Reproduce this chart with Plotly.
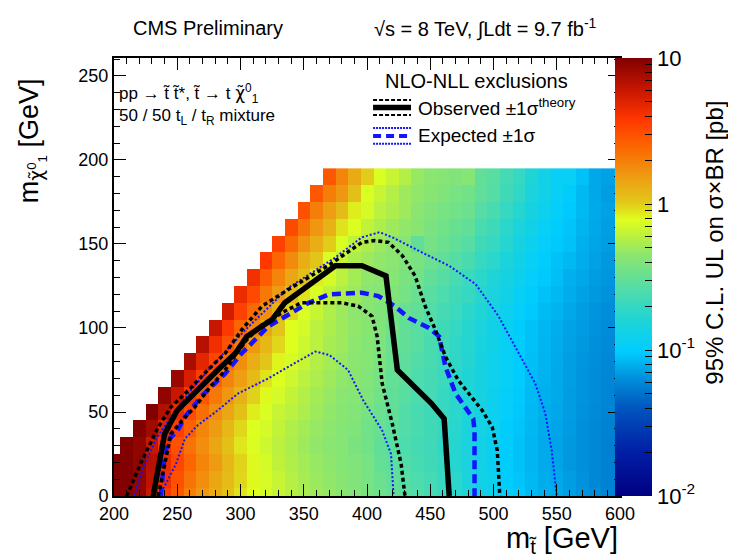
import numpy as np
import plotly.graph_objects as go

## Grid of stop / LSP masses (cell centres, GeV)
mstop = list(range(200, 601, 10))
mlsp = list(range(0, 191, 10))

## 95% CL upper limit on sigma x BR [pb], one list per LSP mass row.
## Each row starts at the first filled cell (the diagonal) and runs to mstop = 600.
ul_000 = [10, 9.5, 9, 6, 3.8, 2.8, 2.0, 1.6, 1.35, 1.1, 0.9, 0.78, 0.72, 0.65, 0.59, 0.54, 0.5, 0.47, 0.44, 0.41, 0.38,
          0.34, 0.31, 0.28, 0.26, 0.23, 0.2, 0.18, 0.16, 0.13, 0.12, 0.105, 0.095, 0.085, 0.08, 0.076, 0.071, 0.066, 0.062, 0.058, 0.056]
ul_010 = [10, 10, 9, 6.5, 4.2, 3.0, 2.2, 1.75, 1.4, 1.15, 0.95, 0.8, 0.73, 0.65, 0.58, 0.53, 0.49, 0.46, 0.43, 0.4, 0.37,
          0.33, 0.3, 0.27, 0.25, 0.23, 0.2, 0.18, 0.15, 0.13, 0.12, 0.1, 0.092, 0.085, 0.078, 0.075, 0.07, 0.065, 0.06, 0.057, 0.055]
ul_020 = [10, 10, 9, 6.8, 4.5, 3.3, 2.5, 1.9, 1.55, 1.2, 0.97, 0.8, 0.72, 0.62, 0.56, 0.52, 0.48, 0.45, 0.42, 0.4, 0.37,
          0.31, 0.29, 0.26, 0.24, 0.22, 0.2, 0.17, 0.15, 0.13, 0.115, 0.1, 0.09, 0.083, 0.077, 0.074, 0.068, 0.064, 0.06, 0.057, 0.054]
ul_030 = [10, 9, 6, 4.1, 3.0, 2.2, 1.75, 1.4, 1.1, 0.88, 0.75, 0.68, 0.6, 0.55, 0.5, 0.46, 0.44, 0.42, 0.38, 0.35,
          0.3, 0.28, 0.25, 0.23, 0.22, 0.19, 0.17, 0.15, 0.13, 0.115, 0.1, 0.09, 0.083, 0.077, 0.073, 0.068, 0.064, 0.06, 0.056, 0.054]
ul_040 = [10, 8, 5, 3.6, 2.6, 1.9, 1.55, 1.2, 0.95, 0.77, 0.72, 0.63, 0.56, 0.52, 0.48, 0.45, 0.42, 0.4, 0.35,
          0.32, 0.29, 0.26, 0.24, 0.22, 0.2, 0.175, 0.15, 0.135, 0.12, 0.1, 0.092, 0.084, 0.078, 0.074, 0.069, 0.064, 0.06, 0.057, 0.055]
ul_050 = [10, 7, 4.5, 3.2, 2.3, 1.75, 1.4, 1.1, 0.85, 0.75, 0.65, 0.6, 0.55, 0.5, 0.46, 0.43, 0.41, 0.37,
          0.33, 0.3, 0.26, 0.24, 0.22, 0.2, 0.18, 0.155, 0.135, 0.12, 0.105, 0.094, 0.085, 0.079, 0.075, 0.07, 0.065, 0.061, 0.058, 0.056]
ul_060 = [9, 6, 3.9, 2.9, 2.1, 1.6, 1.25, 0.98, 0.8, 0.72, 0.63, 0.57, 0.52, 0.48, 0.44, 0.42, 0.4,
          0.35, 0.3, 0.28, 0.25, 0.23, 0.2, 0.18, 0.16, 0.14, 0.12, 0.105, 0.095, 0.086, 0.08, 0.076, 0.07, 0.066, 0.062, 0.058, 0.056]
ul_070 = [8.5, 5.3, 3.6, 2.6, 1.9, 1.5, 1.15, 0.9, 0.77, 0.68, 0.6, 0.55, 0.5, 0.46, 0.43, 0.41,
          0.37, 0.31, 0.29, 0.25, 0.23, 0.21, 0.18, 0.16, 0.14, 0.125, 0.11, 0.097, 0.087, 0.081, 0.076, 0.071, 0.066, 0.062, 0.059, 0.057]
ul_080 = [7.5, 4.8, 3.3, 2.3, 1.75, 1.3, 1.05, 0.82, 0.73, 0.65, 0.57, 0.52, 0.48, 0.44, 0.42,
          0.38, 0.33, 0.29, 0.26, 0.24, 0.21, 0.19, 0.165, 0.14, 0.125, 0.11, 0.098, 0.088, 0.082, 0.077, 0.071, 0.067, 0.063, 0.06, 0.058]
ul_090 = [6.8, 4.3, 3.0, 2.1, 1.6, 1.2, 0.95, 0.78, 0.68, 0.6, 0.53, 0.5, 0.45, 0.42,
          0.39, 0.33, 0.3, 0.28, 0.24, 0.22, 0.19, 0.17, 0.145, 0.13, 0.11, 0.1, 0.09, 0.083, 0.078, 0.072, 0.068, 0.064, 0.061, 0.059]
ul_100 = [6, 3.8, 2.5, 1.9, 1.4, 1.05, 0.78, 0.72, 0.6, 0.55, 0.5, 0.46, 0.43,
          0.4, 0.35, 0.3, 0.28, 0.25, 0.22, 0.2, 0.17, 0.15, 0.13, 0.115, 0.1, 0.09, 0.084, 0.079, 0.073, 0.069, 0.065, 0.062, 0.06]
ul_110 = [5.5, 3.5, 2.4, 1.7, 1.25, 0.95, 0.75, 0.65, 0.56, 0.5, 0.45, 0.43,
          0.4, 0.35, 0.32, 0.3, 0.26, 0.23, 0.21, 0.18, 0.16, 0.14, 0.12, 0.105, 0.095, 0.087, 0.082, 0.075, 0.07, 0.066, 0.063, 0.061]
ul_120 = [4.5, 3.2, 2.1, 1.55, 1.15, 0.9, 0.75, 0.62, 0.55, 0.5, 0.44,
          0.42, 0.4, 0.36, 0.32, 0.28, 0.25, 0.22, 0.2, 0.17, 0.15, 0.13, 0.11, 0.1, 0.09, 0.085, 0.078, 0.072, 0.068, 0.065, 0.063]
ul_130 = [4.2, 2.7, 1.9, 1.4, 1.1, 0.85, 0.72, 0.6, 0.52, 0.46,
          0.44, 0.42, 0.38, 0.35, 0.3, 0.27, 0.24, 0.21, 0.18, 0.16, 0.14, 0.12, 0.105, 0.095, 0.088, 0.08, 0.075, 0.07, 0.067, 0.065]
ul_140 = [3.8, 2.5, 1.8, 1.3, 1.05, 0.75, 0.65, 0.55, 0.5,
          0.46, 0.44, 0.4, 0.38, 0.33, 0.3, 0.27, 0.24, 0.2, 0.18, 0.15, 0.13, 0.11, 0.1, 0.09, 0.085, 0.078, 0.072, 0.068, 0.066]
ul_150 = [3.5, 2.4, 1.7, 1.3, 1.0, 0.75, 0.62, 0.55,
          0.5, 0.44, 0.42, 0.3, 0.36, 0.33, 0.3, 0.27, 0.22, 0.2, 0.17, 0.14, 0.12, 0.105, 0.095, 0.09, 0.08, 0.074, 0.07, 0.067]
ul_160 = [3.2, 2.2, 1.6, 1.25, 0.9, 0.75, 0.62,
          0.55, 0.5, 0.46, 0.43, 0.38, 0.35, 0.32, 0.3, 0.24, 0.22, 0.18, 0.15, 0.13, 0.11, 0.1, 0.092, 0.082, 0.075, 0.071, 0.068]
ul_170 = [3.0, 2.0, 1.5, 1.15, 0.85, 0.72,
          0.6, 0.55, 0.5, 0.44, 0.4, 0.37, 0.35, 0.33, 0.27, 0.24, 0.2, 0.17, 0.14, 0.12, 0.105, 0.095, 0.085, 0.076, 0.072, 0.069]
ul_180 = [2.8, 2.0, 1.6, 1.1, 0.75,
          0.65, 0.57, 0.5, 0.46, 0.43, 0.4, 0.37, 0.35, 0.3, 0.27, 0.22, 0.19, 0.15, 0.13, 0.11, 0.1, 0.085, 0.075, 0.07, 0.068]
ul_190 = [2.8, 1.9, 1.35, 1.0,
          0.75, 0.65, 0.57, 0.48, 0.44, 0.42, 0.4, 0.42, 0.3, 0.28, 0.23, 0.2, 0.16, 0.13, 0.11, 0.11, 0.09, 0.075, 0.072, 0.075]

ul_rows = [ul_000, ul_010, ul_020, ul_030, ul_040, ul_050, ul_060, ul_070, ul_080, ul_090,
           ul_100, ul_110, ul_120, ul_130, ul_140, ul_150, ul_160, ul_170, ul_180, ul_190]

## Exclusion contours (mstop, mlsp) in GeV
obs_x = [231, 240, 250, 264, 282, 296, 305, 325, 335, 375, 396, 415, 424, 451, 461, 465]
obs_y = [0, 37, 51, 62, 75, 85, 95, 105, 115, 137, 137, 131, 75, 55, 46, 0]
obs_up_x = [210, 216, 222, 235, 245, 259, 274, 288, 301, 317, 338, 369, 396, 406, 417, 428, 438, 446, 454, 462, 472, 491, 499, 503, 505]
obs_up_y = [0, 10, 21, 41, 53, 63, 75, 85, 99, 113, 123, 137, 151, 152, 151, 143, 131, 113, 99, 83, 69, 51, 41, 27, 0]
obs_dn_x = [235, 245, 255, 264, 276, 287, 296, 305, 317, 335, 348, 380, 393, 404, 408, 410, 412, 420, 427, 430]
obs_dn_y = [0, 37, 46, 53, 65, 74, 84, 93, 102, 110, 115, 115, 113, 107, 95, 80, 67, 43, 19, 0]
exp_x = [237, 240, 244, 251, 256, 263, 270, 288, 301, 322, 354, 370, 396, 409, 422, 433, 449, 457, 462, 470, 484, 485, 485]
exp_y = [0, 25, 34, 40, 47, 53, 60, 73, 85, 101, 115, 120, 121, 119, 113, 106, 100, 95, 77, 61, 46, 39, 0]
exp_up_x = [216, 223, 234, 247, 262, 277, 304, 338, 375, 396, 410, 420, 446, 465, 486, 504, 517, 533, 541, 546, 550]
exp_up_y = [0, 17, 35, 49, 64, 77, 99, 124, 142, 154, 157, 154, 144, 137, 126, 107, 89, 67, 49, 27, 0]
exp_dn_x = [236, 249, 256, 266, 282, 298, 322, 343, 359, 370, 385, 397, 412, 419, 421]
exp_dn_y = [0, 19, 34, 42, 51, 61, 70, 79, 86, 84, 75, 57, 39, 25, 0]

## ROOT-like rainbow palette
palette = [[0.00, "rgb(0,0,130)"], [0.10, "rgb(0,30,165)"], [0.20, "rgb(0,85,190)"],
           [0.27, "rgb(0,145,220)"], [0.33, "rgb(0,205,255)"], [0.40, "rgb(30,212,215)"],
           [0.47, "rgb(80,220,170)"], [0.55, "rgb(140,230,110)"], [0.60, "rgb(195,243,55)"],
           [0.63, "rgb(222,255,30)"], [0.67, "rgb(225,200,25)"], [0.73, "rgb(238,155,18)"],
           [0.80, "rgb(252,100,0)"], [0.86, "rgb(255,55,0)"], [0.92, "rgb(205,25,0)"],
           [1.00, "rgb(130,0,0)"]]

## pad each row with empty cells above the diagonal, colour by log10
z = []
for row in ul_rows:
    full = [np.nan] * (len(mstop) - len(row)) + row
    z.append(np.log10(np.array(full, dtype=float)))

## colour bar ticks: decades labelled, 2..9 unlabelled
cb_vals, cb_text = [], []
for dec in [-2, -1, 0]:
    for k in range(1, 10):
        cb_vals.append(dec + np.log10(k))
        cb_text.append({-2: "10<sup>-2</sup>", -1: "10<sup>-1</sup>", 0: "1"}[dec] if k == 1 else "")
cb_vals.append(1)
cb_text.append("10")

fig = go.Figure()
fig.add_trace(go.Heatmap(
    x=mstop, y=mlsp, z=z, zmin=-2, zmax=1, colorscale=palette, hoverinfo="skip",
    colorbar=dict(x=0.991, xanchor="left", xpad=0, y=0.5, yanchor="middle", ypad=0,
                  len=1, lenmode="fraction", thickness=37, outlinewidth=0,
                  tickmode="array", tickvals=cb_vals, ticktext=cb_text,
                  ticks="inside", ticklen=7, tickcolor="black", tickwidth=1,
                  tickfont=dict(size=22, color="black"))))

line_styles = [
    (exp_up_x, exp_up_y, dict(color="rgb(20,20,255)", width=2, dash="2px,2px")),
    (exp_dn_x, exp_dn_y, dict(color="rgb(20,20,255)", width=2, dash="2px,2px")),
    (exp_x, exp_y, dict(color="rgb(20,20,255)", width=4.5, dash="9px,5px")),
    (obs_up_x, obs_up_y, dict(color="black", width=3.5, dash="4px,3px")),
    (obs_dn_x, obs_dn_y, dict(color="black", width=3.5, dash="4px,3px")),
    (obs_x, obs_y, dict(color="black", width=5.5)),
]
for xs, ys, ln in line_styles:
    fig.add_trace(go.Scatter(x=xs, y=ys, mode="lines", line=ln, showlegend=False, hoverinfo="skip"))

axis_common = dict(ticks="inside", ticklen=12, tickwidth=1, tickcolor="black",
                   showline=True, linewidth=2, linecolor="black", mirror="ticks",
                   showgrid=False, zeroline=False, tickfont=dict(size=18, color="black"),
                   minor=dict(ticks="inside", ticklen=6, tickcolor="black", dtick=10, showgrid=False))

fig.update_layout(
    width=736, height=557,
    margin=dict(l=106, r=124, t=50, b=69),
    paper_bgcolor="white", plot_bgcolor="white",
    font=dict(family="Liberation Sans, Arial, sans-serif", color="black"),
    xaxis=dict(range=[200, 600], tick0=200, dtick=50, **axis_common),
    yaxis=dict(range=[0, 260.7], tick0=0, dtick=50, **axis_common),
    showlegend=False,
)

## legend samples (drawn by hand, like the ROOT TLegend)
def sample(y, color, width, dash):
    fig.add_shape(type="line", xref="paper", yref="paper", x0=0.512, x1=0.587, y0=y, y1=y,
                  line=dict(color=color, width=width, dash=dash))

sample(0.904, "black", 2, "4px,2px")
sample(0.887, "black", 5.5, "solid")
sample(0.870, "black", 2, "4px,2px")
sample(0.840, "rgb(20,20,255)", 2, "2px,1px")
sample(0.822, "rgb(20,20,255)", 4, "8px,5px")
sample(0.804, "rgb(20,20,255)", 2, "2px,1px")

chi = '<span style="font-family:DejaVu Sans">χ̃</span>'

texts = [
    dict(x=0.186, y=1.068, text="CMS Preliminary", size=20, xanchor="center"),
    dict(x=0.735, y=1.068, text="√s = 8 TeV, ∫Ldt = 9.7 fb<sup>-1</sup>", size=20, xanchor="center"),
    dict(x=0.006, y=0.918, text="pp → t̃ t̃*, t̃ → t " + chi + "<sup>0</sup><sub>1</sub>", size=17, xanchor="left"),
    dict(x=0.006, y=0.866, text="50 / 50 t<sub>L</sub> / t<sub>R</sub> mixture", size=17, xanchor="left"),
    dict(x=0.717, y=0.947, text="NLO-NLL exclusions", size=20, xanchor="center"),
    dict(x=0.596, y=0.887, text="Observed ±1σ<sup>theory</sup>", size=19, xanchor="left"),
    dict(x=0.596, y=0.822, text="Expected ±1σ", size=19, xanchor="left"),
    dict(x=1.0, y=-0.101, text="m<sub>t̃</sub> [GeV]", size=29, xanchor="right"),
]
for t in texts:
    fig.add_annotation(x=t["x"], y=t["y"], xref="paper", yref="paper", text=t["text"],
                       showarrow=False, xanchor=t["xanchor"], yanchor="middle",
                       font=dict(size=t["size"], color="black"))

## rotated axis titles
fig.add_annotation(x=-0.162, y=0.81, xref="paper", yref="paper", xanchor="center", yanchor="middle",
                   text="m<sub>" + chi + "<sup>0</sup><sub>1</sub></sub> [GeV]",
                   textangle=-90, showarrow=False, font=dict(size=27, color="black"))
fig.add_annotation(x=1.218, y=0.578, xref="paper", yref="paper", yanchor="middle",
                   text="95% C.L. UL on σ×BR [pb]",
                   textangle=-90, showarrow=False, font=dict(size=24, color="black"))

fig.write_html("out.html")
